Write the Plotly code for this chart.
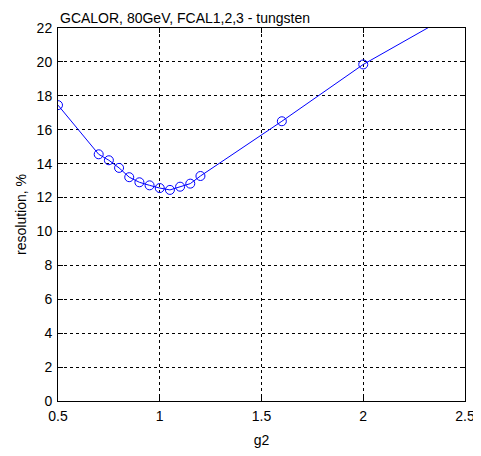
import plotly.graph_objects as go

g2 = [0.5, 0.7, 0.75, 0.8, 0.85, 0.9, 0.95, 1.0, 1.05, 1.1, 1.15, 1.2, 1.6, 2.0, 2.5]
resolution = [17.45, 14.55, 14.2, 13.75, 13.2, 12.9, 12.72, 12.56, 12.45, 12.64, 12.82, 13.27, 16.5, 19.85, 23.25]

x_ticks = [0.5, 1, 1.5, 2, 2.5]
x_ticklabels = ["0.5", "1", "1.5", "2", "2.5"]
y_ticks = list(range(0, 23, 2))

font = "Liberation Sans, Arial, sans-serif"

fig = go.Figure()
fig.add_trace(go.Scatter(
    x=g2, y=resolution, mode="lines+markers",
    line=dict(color="#0000FF", width=1),
    marker=dict(symbol="circle-open", size=9, color="#0000FF", line=dict(width=1)),
    cliponaxis=True, showlegend=False,
))

axis_common = dict(
    showline=True, linecolor="black", linewidth=1, mirror="ticks",
    ticks="inside", ticklen=5, tickcolor="black",
    showgrid=True, gridcolor="black", gridwidth=1, griddash="3px,3px",
    zeroline=False, tickfont=dict(family=font, size=14, color="black"),
    automargin=False,
)

fig.update_xaxes(range=[0.5, 2.5], tickvals=x_ticks, ticktext=x_ticklabels,
                 title=dict(text="g2", font=dict(family=font, size=14, color="black"), standoff=12),
                 ticklabelstandoff=2,
                 **axis_common)
fig.update_yaxes(range=[0, 22], tickvals=y_ticks,
                 title=dict(text="resolution, %", font=dict(family=font, size=14, color="black"), standoff=6),
                 ticklabelstandoff=2,
                 **axis_common)

# page has an 8px body margin: figure is offset by (8, 8)
fig.update_layout(
    width=473, height=448,
    margin=dict(l=50, r=16, t=20, b=55),
    paper_bgcolor="white", plot_bgcolor="white",
    title=dict(text="GCALOR, 80GeV, FCAL1,2,3 - tungsten", x=52/473, xanchor="left",
               y=1 - 10/448, yanchor="middle",
               font=dict(family=font, size=14, color="black")),
    font=dict(family=font, size=14, color="black"),
)

fig.write_html("out.html")
